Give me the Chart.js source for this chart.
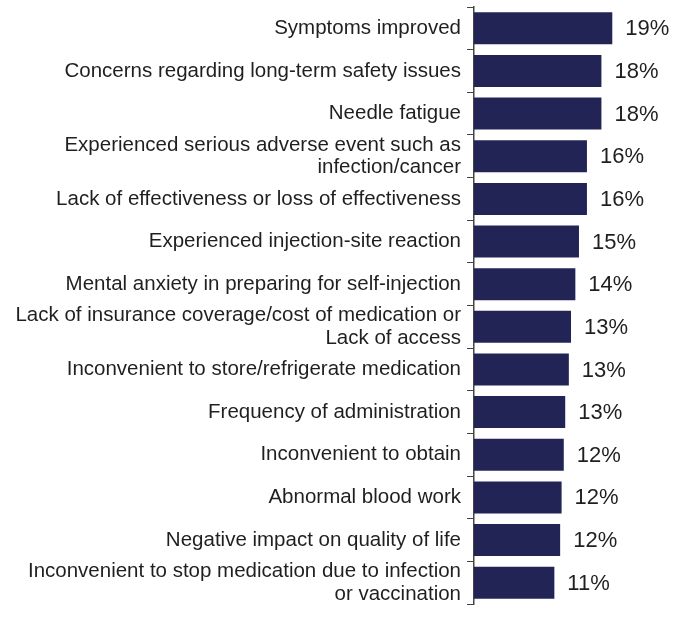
<!DOCTYPE html>
<html>
<head>
<meta charset="utf-8">
<script src="https://cdn.jsdelivr.net/npm/chart.js@4"></script>
<style>
  html, body { margin: 0; padding: 0; background: #ffffff; }
  #wrap { width: 673px; height: 620px; position: relative; }
</style>
</head>
<body>
<div id="wrap"><canvas id="c"></canvas></div>
<script>
const categories = [
  ["Symptoms improved"],
  ["Concerns regarding long-term safety issues"],
  ["Needle fatigue"],
  ["Experienced serious adverse event such as", "infection/cancer"],
  ["Lack of effectiveness or loss of effectiveness"],
  ["Experienced injection-site reaction"],
  ["Mental anxiety in preparing for self-injection"],
  ["Lack of insurance coverage/cost of medication or", "Lack of access"],
  ["Inconvenient to store/refrigerate medication"],
  ["Frequency of administration"],
  ["Inconvenient to obtain"],
  ["Abnormal blood work"],
  ["Negative impact on quality of life"],
  ["Inconvenient to stop medication due to infection", "or vaccination"]
];
const values = [19.1, 17.6, 17.6, 15.6, 15.6, 14.5, 14.0, 13.4, 13.1, 12.6, 12.4, 12.1, 11.9, 11.1];
const valueLabels = ["19%", "18%", "18%", "16%", "16%", "15%", "14%", "13%", "13%", "13%", "12%", "12%", "12%", "11%"];

const FONT = "'Liberation Sans', Arial, sans-serif";

const valueLabelPlugin = {
  id: 'valueLabels',
  afterDatasetsDraw(chart) {
    const ctx = chart.ctx;
    const meta = chart.getDatasetMeta(0);
    ctx.save();
    ctx.font = "22px " + FONT;
    ctx.fillStyle = "#1f1f1f";
    ctx.textAlign = "left";
    ctx.textBaseline = "middle";
    meta.data.forEach((bar, i) => {
      ctx.fillText(valueLabels[i], bar.x + 13, bar.y + 1);
    });
    ctx.restore();
  }
};

new Chart(document.getElementById('c'), {
  type: 'bar',
  data: {
    labels: categories,
    datasets: [{
      data: values,
      backgroundColor: '#232456',
      borderWidth: 0,
      barPercentage: 0.75,
      categoryPercentage: 1.0
    }]
  },
  options: {
    indexAxis: 'y',
    responsive: true,
    maintainAspectRatio: false,
    animation: false,
    layout: { padding: { top: 7, bottom: 16, left: 0, right: 18 } },
    plugins: {
      legend: { display: false },
      tooltip: { enabled: false }
    },
    scales: {
      x: {
        display: false,
        min: 0,
        max: 25
      },
      y: {
        afterFit(scale) {
          scale.width = 474;
          scale.paddingTop = 0;
          scale.paddingBottom = 0;
        },
        border: { display: true, color: '#444444', width: 1.5 },
        grid: {
          display: true,
          drawOnChartArea: false,
          drawTicks: true,
          tickLength: 7,
          color: '#444444',
          offset: true
        },
        ticks: {
          autoSkip: false,
          padding: 6,
          color: '#1f1f1f',
          font: { family: FONT, size: 20.5, lineHeight: 1.1 }
        }
      }
    }
  },
  plugins: [valueLabelPlugin]
});
</script>
</body>
</html>
